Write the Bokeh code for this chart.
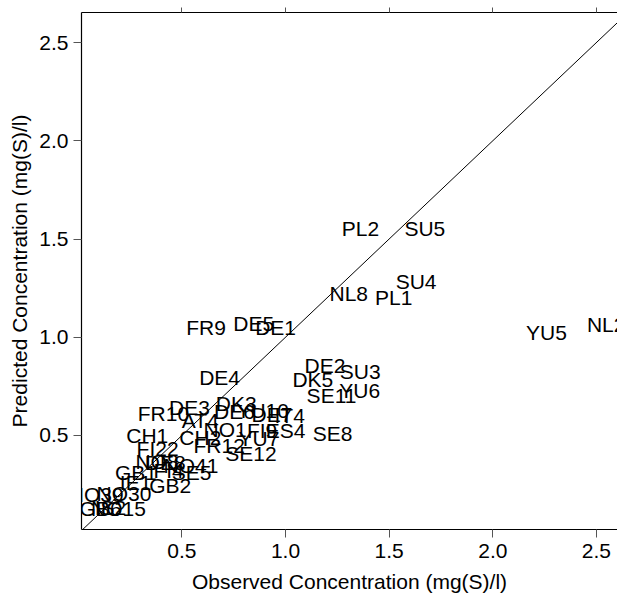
from bokeh.plotting import figure
from bokeh.models import Range1d, FixedTicker, LinearAxis, Slope, ColumnDataSource
from bokeh.core.properties import value
from bokeh.embed import file_html
from bokeh.resources import INLINE

# Site labels with observed (x) and predicted (y) concentrations, mg(S)/l
sites = ["PL2", "SU5", "SU4", "NL8", "PL1", "YU5", "NL2",
         "DE2", "SU3", "DK5", "YU6", "SE11",
         "FR9", "DE5", "DE1", "DE4", "DK3", "DE3", "FR10",
         "DE6", "YU10", "DE7", "IT4", "SE8", "NO1", "AT4", "CH2",
         "FI9", "ES4", "FR12", "YU7", "SE12", "CH1", "FI22",
         "NO8", "DE8", "NO41", "GB1", "FI4", "SE5", "GB2", "IE1",
         "NO39", "NO30", "GB6", "IS2", "NO15"]
observed = [1.362, 1.672, 1.630, 1.305, 1.522, 2.259, 2.547,
            1.190, 1.360, 1.132, 1.358, 1.222,
            0.617, 0.847, 0.952, 0.682, 0.762, 0.537, 0.411,
            0.754, 0.890, 0.935, 1.020, 1.227, 0.709, 0.589, 0.589,
            0.887, 1.000, 0.680, 0.872, 0.833, 0.333, 0.383,
            0.380, 0.420, 0.544, 0.279, 0.436, 0.547, 0.444, 0.277,
            0.087, 0.221, 0.108, 0.156, 0.194]
predicted = [1.555, 1.555, 1.284, 1.224, 1.201, 1.026, 1.065,
             0.856, 0.826, 0.783, 0.729, 0.704,
             1.048, 1.072, 1.048, 0.794, 0.664, 0.644, 0.613,
             0.622, 0.625, 0.605, 0.600, 0.509, 0.529, 0.576, 0.491,
             0.525, 0.525, 0.449, 0.485, 0.410, 0.500, 0.434,
             0.370, 0.362, 0.348, 0.311, 0.322, 0.311, 0.248, 0.260,
             0.199, 0.203, 0.128, 0.133, 0.128]

ticks = [0.5, 1.0, 1.5, 2.0, 2.5]
x_title = "Observed Concentration (mg(S)/l)"
y_title = "Predicted Concentration (mg(S)/l)"

FONT = "Liberation Sans"
FS = "21px"

p = figure(width=617, height=599, output_backend="svg", toolbar_location=None,
           x_range=Range1d(0.0159, 2.6015), y_range=Range1d(0.0216, 2.6527),
           min_border_left=81, min_border_right=0, min_border_top=12,
           min_border_bottom=70, x_axis_label=x_title, y_axis_label=y_title)
p.outline_line_color = None
p.xgrid.visible = False
p.ygrid.visible = False
p.background_fill_color = "white"
p.border_fill_color = "white"

for ax in (p.xaxis[0], p.yaxis[0]):
    ax.ticker = FixedTicker(ticks=ticks)
    ax.major_label_overrides = {t: f"{t:.1f}" for t in ticks}
    ax.minor_tick_line_color = None
    ax.major_tick_in = 0
    ax.major_tick_out = 8
    ax.major_tick_line_color = "#555555"
    ax.axis_line_color = "black"
    ax.axis_line_width = 1.2
    ax.major_label_text_font = FONT
    ax.major_label_text_font_size = FS
    ax.major_label_text_color = "black"
    ax.axis_label_text_font = FONT
    ax.axis_label_text_font_size = FS
    ax.axis_label_text_font_style = "normal"
    ax.axis_label_text_color = "black"
p.xaxis[0].major_label_standoff = 6
p.xaxis[0].axis_label_standoff = 9
p.yaxis[0].major_label_standoff = 5
p.yaxis[0].axis_label_standoff = 5

top = LinearAxis(ticker=FixedTicker(ticks=ticks),
                 major_label_overrides={t: "" for t in ticks},
                 major_label_standoff=0, major_tick_in=0, major_tick_out=5,
                 minor_tick_line_color=None, axis_line_color="black", axis_line_width=1.2,
                 major_tick_line_color="#555555")
p.add_layout(top, "above")

p.add_layout(Slope(gradient=1, y_intercept=0, line_color="black", line_width=1))

src = ColumnDataSource(dict(x=observed, y=predicted, t=sites))
p.text(x="x", y="y", text="t", source=src, text_align="center", text_baseline="middle",
       text_font=value(FONT), text_font_size=FS, text_color="black")

open("out.html", "w").write(file_html(p, INLINE))
